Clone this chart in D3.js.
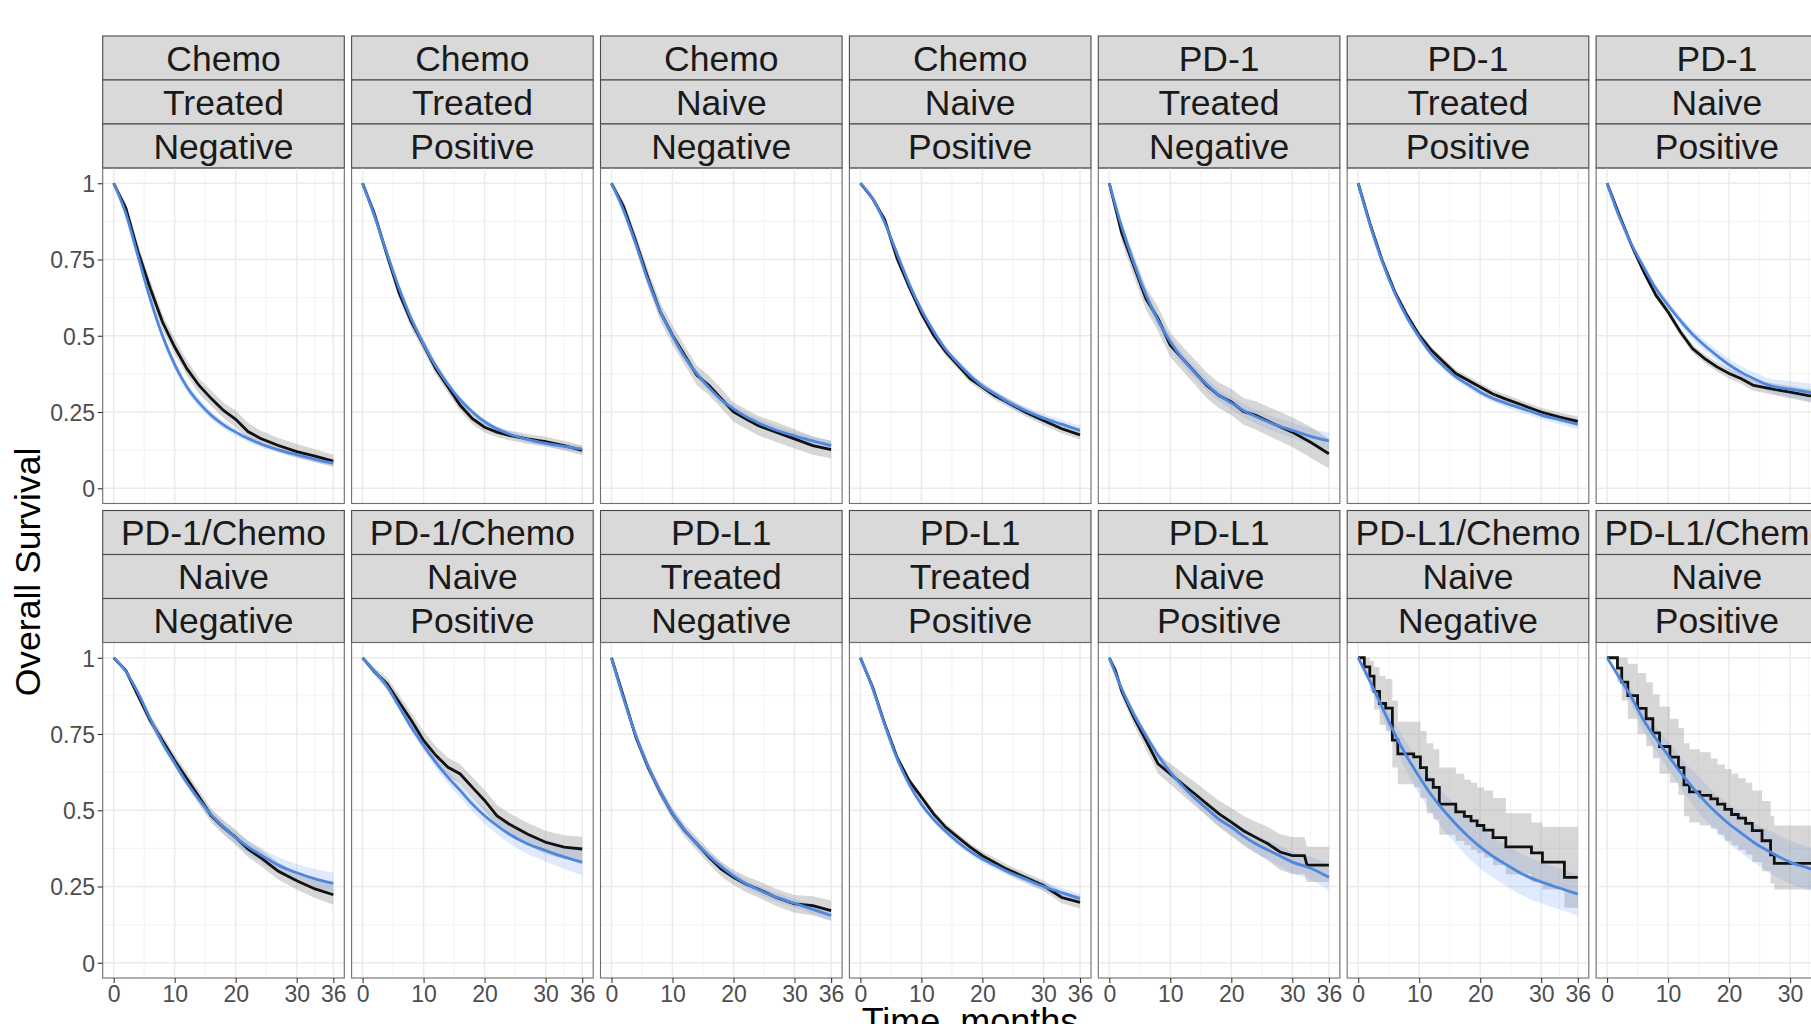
<!DOCTYPE html>
<html>
<head>
<meta charset="utf-8">
<script src="https://cdn.jsdelivr.net/npm/d3@7"></script>
<style>
  body { margin: 0; background: #fff; }
  svg { display: block; font-family: "Liberation Sans", Arial, sans-serif; }
</style>
</head>
<body>
<svg></svg>
<script>
// facet labels (three strip layers per panel)
const drugs = ["Chemo", "Chemo", "Chemo", "Chemo", "PD-1", "PD-1", "PD-1",
    "PD-1/Chemo", "PD-1/Chemo", "PD-L1", "PD-L1", "PD-L1", "PD-L1/Chemo", "PD-L1/Chemo"];
const lines = ["Treated", "Treated", "Naive", "Naive", "Treated", "Treated", "Naive",
    "Naive", "Naive", "Treated", "Treated", "Naive", "Naive", "Naive"];
const pdl1 = ["Negative", "Positive", "Negative", "Positive", "Negative", "Positive", "Positive",
    "Negative", "Positive", "Negative", "Positive", "Positive", "Negative", "Positive"];

const xTicks = [0, 10, 20, 30, 36];
const xMinor = [5, 15, 25, 33];
const yTicks = [0, 0.25, 0.5, 0.75, 1];
const yTickLabels = ["0", "0.25", "0.5", "0.75", "1"];
const yMinor = [0.125, 0.375, 0.625, 0.875];

// time grid (months) the curves were read at
const months = [0, 2, 4, 6, 8, 10, 12, 14, 16, 18, 20, 22, 24, 27, 30, 33, 36];

// Kaplan-Meier estimate with its confidence band
const kmTime = [months, months, months, months, months, months, months,
    months, months, months, months,
    [0, 1, 2, 4, 6, 8, 10, 12, 14, 16, 18, 20, 22, 24, 26, 28, 30, 32, 32.4, 36],
    [0, 1.0, 1.9, 2.6, 3.5, 4.5, 5.6, 6.5, 9.1, 10.2, 11.2, 12.3, 13.3, 16.0, 17.4, 18.5, 19.5, 20.6, 22.1, 24.2, 28.4, 30.2, 33.8, 36],
    [0, 1.7, 2.4, 3.4, 5.0, 6.4, 7.5, 8.6, 10.3, 11.7, 12.6, 13.5, 15.2, 17.0, 18.1, 19.3, 20.4, 21.5, 22.7, 23.8, 25.4, 26.8, 27.4, 36]];
const kmStepped = [false, false, false, false, false, false, false,
    false, false, false, false, false, true, true];

const km = [
    [1, .918, .775, .655, .545, .463, .392, .337, .294, .255, .226, .186, .164, .14, .12, .105, .089],
    [1, .896, .765, .64, .545, .469, .392, .332, .272, .228, .2, .184, .173, .162, .153, .14, .124],
    [1, .923, .808, .688, .578, .502, .436, .37, .337, .294, .25, .228, .206, .184, .162, .14, .127],
    [1, .95, .88, .754, .66, .573, .502, .447, .403, .359, .332, .304, .283, .25, .222, .195, .175],
    [1, .84, .73, .622, .556, .469, .425, .381, .337, .304, .283, .252, .239, .211, .184, .151, .113],
    [1, .863, .743, .644, .567, .502, .452, .414, .376, .354, .332, .31, .294, .272, .25, .233, .219],
    [1, .896, .797, .71, .633, .578, .513, .458, .425, .398, .376, .359, .337, .326, .315, .304, .295],
    [1, .958, .876, .794, .729, .663, .603, .543, .482, .444, .411, .373, .346, .3, .269, .242, .223],
    [1, .953, .915, .854, .794, .729, .68, .641, .619, .575, .532, .482, .455, .422, .395, .379, .373],
    [1, .871, .74, .641, .559, .488, .433, .39, .346, .307, .28, .258, .242, .214, .193, .187, .171],
    [1, .904, .783, .674, .597, .543, .488, .444, .411, .379, .351, .329, .307, .28, .253, .214, .198],
    [1, .958, .893, .805, .729, .652, .619, .586, .554, .521, .488, .461, .433, .411, .39, .363, .351, .351, .32, .32],
    [1, .97, .94, .89, .85, .835, .73, .685, .675, .64, .6, .575, .52, .495, .48, .465, .45, .435, .41, .38, .36, .33, .28, .28],
    [1, .966, .92, .876, .834, .8, .754, .709, .674, .64, .583, .56, .549, .537, .52, .503, .486, .474, .457, .433, .4, .354, .326, .326]
];
const kmLo = [
    [1, .9, .75, .63, .52, .44, .37, .31, .27, .23, .2, .165, .145, .12, .1, .085, .07],
    [1, .88, .745, .62, .525, .449, .372, .312, .254, .21, .183, .168, .157, .146, .137, .124, .108],
    [1, .905, .783, .66, .548, .47, .404, .338, .305, .262, .218, .196, .174, .152, .13, .11, .098],
    [1, .943, .87, .742, .647, .56, .489, .434, .39, .346, .318, .29, .269, .236, .207, .18, .16],
    [1, .81, .695, .585, .515, .43, .385, .34, .295, .262, .24, .208, .193, .163, .135, .1, .065],
    [1, .853, .731, .632, .555, .49, .44, .401, .363, .341, .319, .297, .28, .258, .236, .218, .203],
    [1, .89, .789, .7, .622, .566, .5, .445, .411, .383, .36, .342, .32, .307, .295, .283, .272],
    [1, .95, .862, .777, .71, .643, .582, .521, .459, .42, .386, .347, .319, .272, .24, .212, .19],
    [1, .94, .895, .83, .768, .7, .65, .61, .587, .542, .498, .447, .419, .385, .357, .34, .333],
    [1, .86, .725, .624, .54, .468, .412, .368, .323, .283, .255, .232, .215, .186, .164, .156, .138],
    [1, .898, .775, .665, .587, .532, .477, .432, .398, .366, .337, .314, .292, .264, .236, .195, .177],
    [1, .945, .875, .78, .7, .62, .585, .55, .515, .48, .445, .415, .385, .36, .335, .305, .29, .29, .265, .265],
    [1, .94, .89, .83, .78, .76, .64, .585, .575, .54, .49, .47, .42, .4, .385, .37, .36, .345, .32, .29, .265, .24, .18, .18],
    [1, .92, .86, .8, .75, .71, .67, .62, .59, .55, .48, .46, .45, .44, .42, .4, .385, .37, .355, .33, .3, .26, .24, .24]
];
const kmHi = [
    [1, .935, .8, .68, .57, .49, .42, .36, .32, .28, .255, .215, .19, .165, .145, .128, .11],
    [1, .912, .785, .66, .565, .489, .412, .352, .29, .246, .217, .2, .189, .178, .169, .156, .14],
    [1, .94, .833, .716, .608, .534, .468, .402, .369, .326, .282, .26, .238, .216, .194, .17, .156],
    [1, .957, .89, .766, .673, .586, .515, .46, .416, .372, .346, .318, .297, .264, .237, .21, .19],
    [1, .87, .765, .66, .595, .51, .465, .422, .379, .346, .326, .296, .285, .259, .233, .202, .162],
    [1, .873, .755, .656, .579, .514, .464, .427, .389, .367, .345, .323, .308, .286, .264, .248, .235],
    [1, .902, .805, .72, .644, .59, .526, .471, .439, .413, .392, .376, .354, .345, .335, .325, .318],
    [1, .966, .89, .811, .748, .683, .624, .565, .505, .468, .436, .399, .373, .328, .298, .272, .256],
    [1, .966, .935, .878, .82, .758, .71, .672, .651, .608, .566, .517, .491, .459, .433, .418, .413],
    [1, .882, .755, .658, .578, .508, .454, .412, .369, .331, .305, .284, .269, .242, .222, .218, .204],
    [1, .91, .791, .683, .607, .554, .499, .456, .424, .392, .365, .344, .322, .296, .27, .233, .219],
    [1, .97, .91, .83, .758, .684, .653, .622, .593, .562, .531, .507, .481, .462, .445, .421, .412, .412, .38, .38],
    [1, 1, .99, .97, .94, .93, .86, .79, .79, .76, .72, .7, .64, .62, .6, .59, .575, .565, .54, .49, .46, .445, .445, .445],
    [1, 1, 1, .98, .95, .92, .88, .84, .8, .77, .72, .7, .69, .67, .65, .635, .62, .605, .59, .565, .53, .48, .45, .45]
];

// parametric fit with its confidence band, on the months grid
const fit = [
    [1, .9, .76, .62, .5, .405, .332, .28, .239, .208, .184, .163, .146, .126, .11, .095, .082],
    [1, .89, .77, .655, .555, .472, .4, .34, .29, .25, .218, .195, .178, .16, .147, .137, .128],
    [1, .91, .8, .68, .58, .5, .43, .375, .33, .29, .26, .235, .215, .19, .172, .155, .14],
    [1, .95, .87, .77, .67, .585, .515, .455, .41, .37, .335, .31, .285, .255, .23, .21, .19],
    [1, .86, .74, .635, .55, .48, .425, .38, .34, .305, .28, .255, .235, .21, .19, .17, .155],
    [1, .86, .74, .64, .56, .495, .44, .4, .365, .34, .315, .295, .28, .26, .24, .225, .21],
    [1, .89, .8, .725, .655, .6, .55, .505, .468, .435, .405, .38, .36, .335, .325, .315, .305],
    [1, .955, .885, .8, .72, .655, .59, .535, .485, .445, .41, .38, .355, .32, .295, .275, .26],
    [1, .955, .907, .84, .772, .713, .657, .608, .565, .52, .482, .45, .422, .39, .368, .347, .329],
    [1, .865, .745, .645, .56, .49, .435, .39, .35, .315, .285, .26, .24, .215, .195, .175, .155],
    [1, .9, .78, .67, .585, .52, .47, .43, .395, .365, .34, .32, .3, .275, .25, .23, .21],
    [1, .9, .815, .745, .68, .625, .58, .54, .505, .47, .445, .415, .39, .36, .33, .31, .28],
    [1, .92, .835, .75, .675, .61, .55, .5, .455, .415, .38, .35, .325, .29, .265, .245, .225],
    [1, .935, .87, .795, .735, .68, .625, .575, .53, .49, .455, .425, .395, .36, .33, .31, .29]
];
const fitLo = [
    [1, .89, .745, .605, .485, .39, .318, .266, .226, .195, .172, .152, .135, .116, .1, .086, .073],
    [1, .88, .757, .642, .542, .459, .388, .329, .279, .24, .208, .185, .168, .15, .137, .126, .116],
    [1, .9, .787, .667, .567, .487, .417, .362, .317, .277, .247, .222, .201, .176, .157, .14, .124],
    [1, .945, .862, .761, .661, .575, .505, .445, .399, .359, .324, .298, .273, .242, .216, .195, .174],
    [1, .845, .722, .615, .53, .46, .405, .36, .32, .285, .259, .233, .212, .186, .165, .144, .127],
    [1, .853, .732, .631, .551, .485, .43, .389, .354, .328, .303, .283, .267, .246, .226, .21, .194],
    [1, .884, .79, .713, .642, .586, .535, .489, .451, .417, .386, .36, .339, .312, .298, .286, .27],
    [1, .95, .876, .789, .708, .642, .576, .52, .469, .427, .39, .358, .331, .294, .266, .243, .225],
    [1, .95, .898, .828, .757, .696, .638, .587, .542, .496, .456, .422, .392, .357, .332, .308, .287],
    [1, .858, .736, .635, .55, .479, .424, .378, .338, .302, .272, .247, .226, .2, .18, .159, .138],
    [1, .895, .773, .662, .576, .51, .46, .419, .384, .354, .328, .307, .287, .261, .236, .215, .194],
    [1, .893, .805, .733, .666, .61, .563, .521, .484, .447, .42, .388, .361, .328, .295, .272, .238],
    [1, .905, .805, .71, .625, .555, .49, .435, .39, .345, .31, .28, .255, .22, .195, .175, .155],
    [1, .92, .845, .76, .695, .635, .575, .52, .47, .43, .39, .36, .33, .29, .26, .24, .22]
];
const fitHi = [
    [1, .91, .775, .635, .515, .42, .346, .294, .252, .221, .196, .174, .157, .136, .12, .104, .091],
    [1, .9, .783, .668, .568, .485, .412, .351, .301, .26, .228, .205, .188, .17, .157, .148, .14],
    [1, .92, .813, .693, .593, .513, .443, .388, .343, .303, .273, .248, .229, .204, .187, .17, .156],
    [1, .955, .878, .779, .679, .595, .525, .465, .421, .381, .346, .322, .297, .268, .244, .225, .206],
    [1, .875, .758, .655, .57, .5, .445, .4, .36, .325, .301, .277, .258, .234, .215, .196, .183],
    [1, .867, .748, .649, .569, .505, .45, .411, .376, .352, .327, .307, .293, .274, .254, .24, .226],
    [1, .896, .81, .737, .668, .614, .565, .521, .485, .453, .424, .4, .381, .358, .352, .344, .34],
    [1, .96, .894, .811, .732, .668, .604, .55, .501, .463, .43, .402, .379, .346, .324, .307, .295],
    [1, .96, .916, .852, .787, .73, .676, .629, .588, .544, .508, .478, .452, .423, .404, .386, .371],
    [1, .872, .754, .655, .57, .501, .446, .402, .362, .328, .298, .273, .254, .23, .21, .191, .172],
    [1, .905, .787, .678, .594, .53, .48, .441, .406, .376, .352, .333, .313, .289, .264, .245, .226],
    [1, .907, .825, .757, .694, .64, .597, .559, .526, .493, .47, .442, .419, .392, .365, .348, .322],
    [1, .935, .862, .787, .72, .66, .605, .558, .515, .477, .445, .415, .39, .355, .33, .31, .29],
    [1, .95, .895, .83, .775, .725, .675, .63, .59, .55, .52, .49, .46, .43, .4, .38, .36]
];

const width = 1811,
    height = 1024,
    panelLeft = 102.7,
    panelPitch = 248.9,
    panelW = 241.6,
    panelH = 335.5,
    stripH = 44,
    rowTop = [36, 510.5],
    nCols = 7;

const svg = d3.select("svg");

const drawCanvas = () => {
    svg.attr("width", width);
    svg.attr("height", height);
    svg.append("rect").attr("width", width).attr("height", height).attr("fill", "#fff");
};

const drawPanel = (i) => {
    const row = Math.floor(i / nCols),
        col = i % nCols;
    const x0 = panelLeft + col * panelPitch,
        top = rowTop[row],
        y0 = top + 3 * stripH;

    const xScale = d3.scaleLinear().domain([-1.8, 37.8]).range([x0, x0 + panelW]);
    const yScale = d3.scaleLinear().domain([-0.05, 1.05]).range([y0 + panelH, y0]);

    const g = svg.append("g").attr("class", "panel");

    // strips
    [drugs[i], lines[i], pdl1[i]].forEach((label, k) => {
        g.append("rect")
            .attr("x", x0)
            .attr("y", top + k * stripH)
            .attr("width", panelW)
            .attr("height", stripH)
            .attr("fill", "#d9d9d9")
            .attr("stroke", "#4a4a4a")
            .attr("stroke-width", 1.1);
        g.append("text")
            .attr("x", x0 + panelW / 2)
            .attr("y", top + k * stripH + 34.5)
            .attr("text-anchor", "middle")
            .attr("font-size", 35.5)
            .attr("fill", "#1a1a1a")
            .text(label);
    });

    // grid
    const grid = g.append("g");
    yMinor.forEach((v) => {
        grid.append("line").attr("x1", x0).attr("x2", x0 + panelW)
            .attr("y1", yScale(v)).attr("y2", yScale(v))
            .attr("stroke", "#f0f0f0").attr("stroke-width", 0.8);
    });
    xMinor.forEach((v) => {
        grid.append("line").attr("y1", y0).attr("y2", y0 + panelH)
            .attr("x1", xScale(v)).attr("x2", xScale(v))
            .attr("stroke", "#f0f0f0").attr("stroke-width", 0.8);
    });
    yTicks.forEach((v) => {
        grid.append("line").attr("x1", x0).attr("x2", x0 + panelW)
            .attr("y1", yScale(v)).attr("y2", yScale(v))
            .attr("stroke", "#ebebeb").attr("stroke-width", 1.5);
    });
    xTicks.forEach((v) => {
        grid.append("line").attr("y1", y0).attr("y2", y0 + panelH)
            .attr("x1", xScale(v)).attr("x2", xScale(v))
            .attr("stroke", "#ebebeb").attr("stroke-width", 1.5);
    });

    const kmRows = kmTime[i].map((t, j) => ({ t: t, v: km[i][j], lo: kmLo[i][j], hi: kmHi[i][j] }));
    const fitRows = months.map((t, j) => ({ t: t, v: fit[i][j], lo: fitLo[i][j], hi: fitHi[i][j] }));
    const kmCurve = kmStepped[i] ? d3.curveStepAfter : d3.curveLinear;

    // confidence bands
    g.append("path")
        .datum(fitRows)
        .attr("d", d3.area().x((d) => xScale(d.t)).y0((d) => yScale(d.lo)).y1((d) => yScale(d.hi)).curve(d3.curveMonotoneX))
        .attr("fill", "rgb(110,160,255)")
        .attr("fill-opacity", 0.22);
    g.append("path")
        .datum(kmRows)
        .attr("d", d3.area().x((d) => xScale(d.t)).y0((d) => yScale(d.lo)).y1((d) => yScale(d.hi)).curve(kmCurve))
        .attr("fill", "rgb(150,150,150)")
        .attr("fill-opacity", 0.38);

    // KM curve
    g.append("path")
        .datum(kmRows)
        .attr("d", d3.line().x((d) => xScale(d.t)).y((d) => yScale(d.v)).curve(kmCurve))
        .attr("fill", "none")
        .attr("stroke", "#111")
        .attr("stroke-width", 2.8);

    // fitted curve
    g.append("path")
        .datum(fitRows)
        .attr("d", d3.line().x((d) => xScale(d.t)).y((d) => yScale(d.v)).curve(d3.curveMonotoneX))
        .attr("fill", "none")
        .attr("stroke", "#4f87de")
        .attr("stroke-width", 2.8);

    // panel border
    g.append("rect")
        .attr("x", x0)
        .attr("y", y0)
        .attr("width", panelW)
        .attr("height", panelH)
        .attr("fill", "none")
        .attr("stroke", "#6e6e6e")
        .attr("stroke-width", 1.1);

    // axes
    if (col === 0) {
        const yAxis = d3.axisLeft(yScale)
            .tickValues(yTicks)
            .tickFormat((d, k) => yTickLabels[k])
            .tickSize(5)
            .tickPadding(2.7);
        const ga = g.append("g").attr("transform", "translate(" + x0 + ",0)").call(yAxis);
        styleAxis(ga);
        ga.selectAll("text").attr("dy", "0.36em");
    }
    if (row === 1) {
        const xAxis = d3.axisBottom(xScale)
            .tickValues(xTicks)
            .tickSize(5)
            .tickPadding(2.5);
        const ga = g.append("g").attr("transform", "translate(0," + (y0 + panelH) + ")").call(xAxis);
        styleAxis(ga);
    }
};

const styleAxis = (ga) => {
    ga.select(".domain").remove();
    ga.attr("font-family", null).attr("font-size", null);
    ga.selectAll("line").attr("stroke", "#333").attr("stroke-width", 1.1);
    ga.selectAll("text").attr("fill", "#4d4d4d").attr("font-size", 23);
};

const drawTitles = () => {
    svg.append("text")
        .attr("transform", "translate(40,572) rotate(-90)")
        .attr("text-anchor", "middle")
        .attr("font-size", 35.5)
        .attr("fill", "#000")
        .text("Overall Survival");

    svg.append("text")
        .attr("x", 970)
        .attr("y", 1034)
        .attr("text-anchor", "middle")
        .attr("font-size", 36)
        .attr("fill", "#000")
        .text("Time, months");
};

drawCanvas();
drugs.forEach((d, i) => drawPanel(i));
drawTitles();
</script>
</body>
</html>
